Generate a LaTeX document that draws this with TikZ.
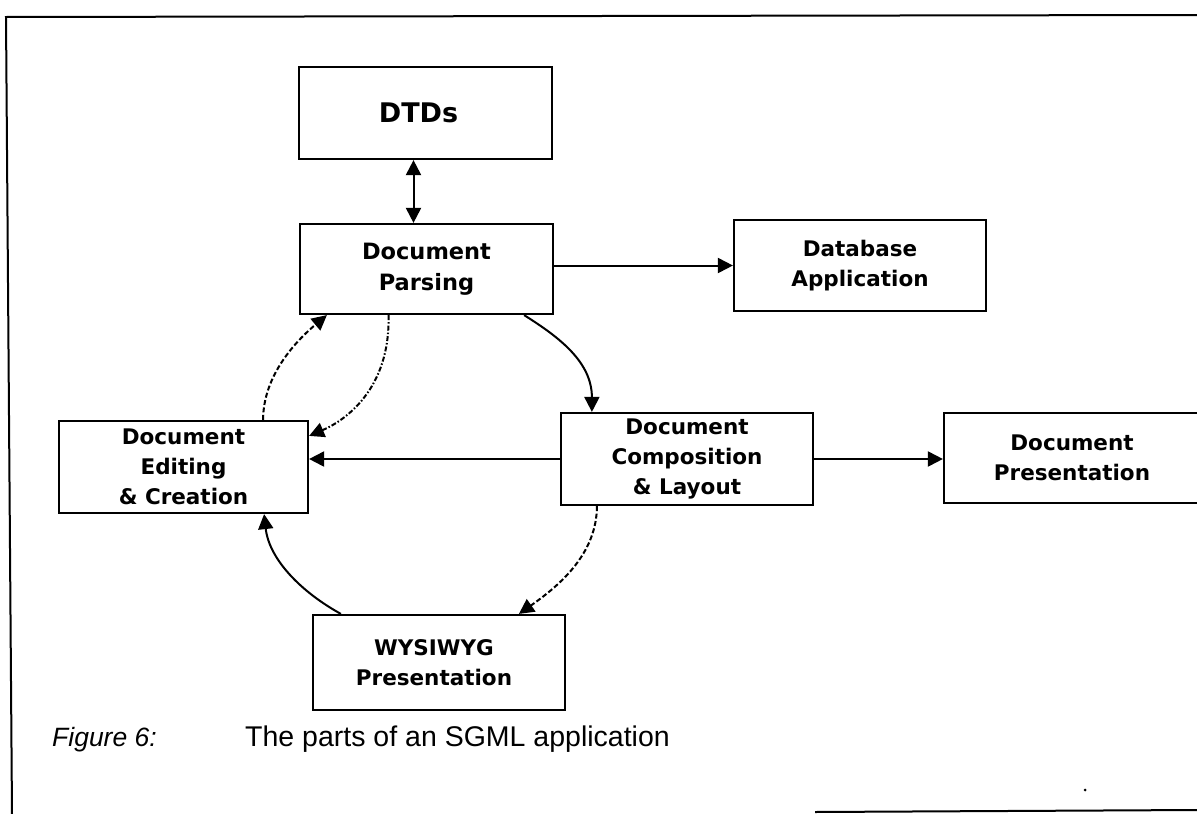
\documentclass[tikz,border=0pt]{standalone}
\usepackage{fontspec}
\setmainfont{Liberation Sans}
\newfontfamily\boxfont{DejaVu Sans}
\usetikzlibrary{arrows.meta}
\begin{document}
\begin{tikzpicture}[x=1pt,y=-1pt,
  stepbox/.style={draw, line width=2.2pt, inner sep=0pt, align=center,
    minimum width=252pt, minimum height=92pt,
    font=\boxfont\bfseries\fontsize{21.5}{30}\selectfont},
  tip/.style={-{Triangle[length=15pt,width=15pt]}},
  conn/.style={line width=2pt, tip},
  dashline/.style={dash pattern=on 5pt off 2.5pt},
  dashdotline/.style={dash pattern=on 5pt off 2pt on 1.5pt off 2pt},
  frameline/.style={line width=2pt}]
\clip (0,0) rectangle (1197,814);
\fill[white] (0,0) rectangle (1197,814);
% frame
\coordinate (f1) at (6,17);
\coordinate (f2) at (1197,15);
\coordinate (f3) at (12,814);
\coordinate (f4) at (815,812);
\coordinate (f5) at (1197,810);
\draw[frameline] (f3) -- (f1) -- (f2);
\draw[frameline] (f4) -- (f5);
\fill (1085,790) circle (1.5pt);
% boxes
\node[stepbox, minimum width=253pt, font=\boxfont\bfseries\fontsize{27}{32}\selectfont] (dtds) at (425.5,113) {DTDs\hspace*{14pt}};
\node[stepbox, minimum width=253pt, minimum height=90pt, font=\boxfont\bfseries\fontsize{22.5}{31}\selectfont] (parse) at (426.5,269) {Document\\Parsing};
\node[stepbox, minimum height=91pt] (db) at (860,265.5) {Database\\Application};
\node[stepbox, minimum width=249pt] (edit) at (183.5,467) {Document\\Editing\\\& Creation};
\node[stepbox] (comp) at (687,459) {Document\\Composition\\\& Layout};
\node[stepbox, minimum width=256pt, minimum height=90pt] (pres) at (1072,458) {Document\\Presentation};
\node[stepbox, minimum height=95pt] (wys) at (439,662.5) {WYSIWYG\hspace*{10pt}\\Presentation\hspace*{10pt}};
% straight connectors
\draw[line width=2pt, {Triangle[length=15pt,width=15pt]}-{Triangle[length=15pt,width=15pt]}]
  ([xshift=-12pt]dtds.south) -- ([xshift=-13pt]parse.north);
\draw[conn] (parse.east |- db.west) -- (db.west);
\draw[conn] (comp.west) -- (comp.west -| edit.east);
\draw[conn] (comp.east) -- (comp.east -| pres.west);
% curved connectors
\draw[conn] ([xshift=-30pt]parse.south east) .. controls +(35,22) and +(0,-50) .. ([xshift=32pt]comp.north west);
\draw[conn, dashdotline] ([xshift=-38pt]parse.south) .. controls +(2,75) and +(35,-15) .. ([yshift=-16pt]edit.north east);
\draw[conn, dashline] ([xshift=-46pt]edit.north east) .. controls +(0,-45) and +(-30,25) .. ([xshift=28pt]parse.south west);
\draw[conn, dashline] ([xshift=37pt]comp.south west) .. controls +(0,48) and +(40,-28) .. ([xshift=207pt]wys.north west);
\draw[conn] ([xshift=29pt]wys.north west) .. controls +(-40,-22) and +(5,45) .. ([xshift=-45pt]edit.south east);
% caption
\node[anchor=base west, inner sep=0pt, font=\itshape\fontsize{26.5}{31}\selectfont] (figlab) at (52,746) {Figure 6:};
\node[anchor=base west, inner sep=0pt, font=\fontsize{28.5}{34}\selectfont] (figtxt) at (245,746) {The parts of an SGML application};
\end{tikzpicture}
\end{document}
